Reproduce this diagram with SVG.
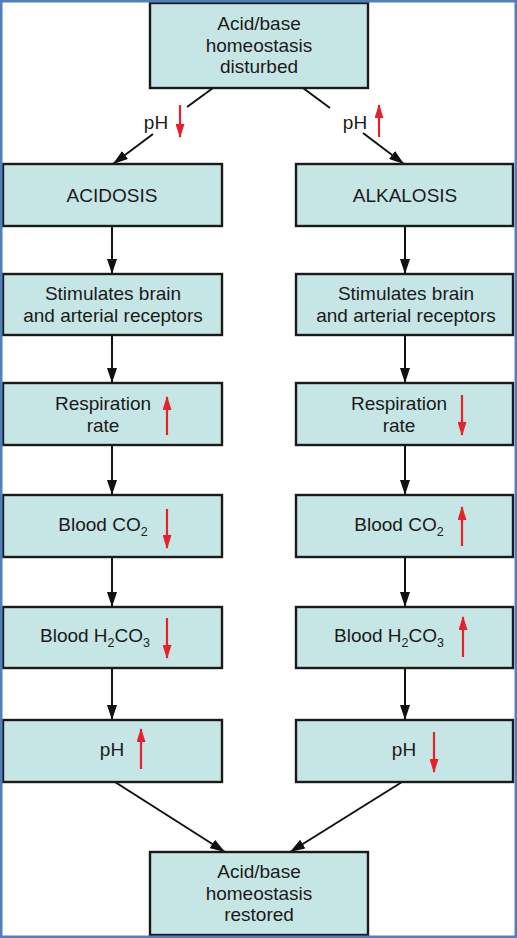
<svg xmlns="http://www.w3.org/2000/svg" width="517" height="938" viewBox="0 0 517 938">
<defs>
<style>
.box{fill:#c6e6e5;stroke:#1a1a1a;stroke-width:2.4}
.t{font-family:"Liberation Sans",Arial,Helvetica,sans-serif;font-size:19px;fill:#1a1a1a;text-anchor:middle}
.sub{font-size:12.5px}
.con{stroke:#111;stroke-width:2;fill:none}
.red{stroke:#e8202a;stroke-width:2.2;fill:none}
</style>
<marker id="bh" markerUnits="userSpaceOnUse" markerWidth="16" markerHeight="10" viewBox="0 0 16 10" refX="15" refY="5" orient="auto">
<path d="M0,0 L15,5 L0,10 Z" fill="#111"/>
</marker>
<marker id="rh" markerUnits="userSpaceOnUse" markerWidth="14" markerHeight="9" viewBox="0 0 14 9" refX="13" refY="4.5" orient="auto">
<path d="M0,0 L14,4.5 L0,9 Z" fill="#e8202a"/>
</marker>
</defs>
<rect x="0" y="0" width="517" height="938" fill="#ffffff"/>

<g id="connectors">
<line class="con" x1="213" y1="88" x2="187" y2="107"/>
<line class="con" x1="153" y1="134" x2="113" y2="164" marker-end="url(#bh)"/>
<line class="con" x1="303" y1="88" x2="330" y2="108"/>
<line class="con" x1="363" y1="133" x2="404" y2="164" marker-end="url(#bh)"/>
<line class="con" x1="112" y1="226" x2="112" y2="274" marker-end="url(#bh)"/>
<line class="con" x1="112" y1="335" x2="112" y2="383" marker-end="url(#bh)"/>
<line class="con" x1="112" y1="445" x2="112" y2="495" marker-end="url(#bh)"/>
<line class="con" x1="112" y1="557" x2="112" y2="607" marker-end="url(#bh)"/>
<line class="con" x1="112" y1="668" x2="112" y2="720" marker-end="url(#bh)"/>
<line class="con" x1="405" y1="226" x2="405" y2="274" marker-end="url(#bh)"/>
<line class="con" x1="405" y1="335" x2="405" y2="383" marker-end="url(#bh)"/>
<line class="con" x1="405" y1="445" x2="405" y2="495" marker-end="url(#bh)"/>
<line class="con" x1="405" y1="557" x2="405" y2="607" marker-end="url(#bh)"/>
<line class="con" x1="405" y1="668" x2="405" y2="720" marker-end="url(#bh)"/>
<line class="con" x1="115" y1="782" x2="225" y2="852" marker-end="url(#bh)"/>
<line class="con" x1="402" y1="782" x2="290" y2="852" marker-end="url(#bh)"/>
<text class="t" x="156" y="129">pH</text>
<text class="t" x="355" y="129">pH</text>
<line class="red" x1="180" y1="105" x2="180" y2="137" marker-end="url(#rh)"/>
<line class="red" x1="379" y1="137" x2="379" y2="105" marker-end="url(#rh)"/>
</g>

<g id="top">
<rect class="box" x="150" y="3" width="218" height="85"/>
<text class="t" x="259" y="30">Acid/base</text>
<text class="t" x="259" y="52">homeostasis</text>
<text class="t" x="259" y="73">disturbed</text>
</g>

<g id="acidosis">
<rect class="box" x="3" y="164" width="219" height="62"/>
<text class="t" x="112" y="202">ACIDOSIS</text>
</g>
<g id="alkalosis">
<rect class="box" x="296" y="164" width="217" height="62"/>
<text class="t" x="405" y="202">ALKALOSIS</text>
</g>

<g id="stim-left">
<rect class="box" x="3" y="274" width="219" height="61"/>
<text class="t" x="113" y="300">Stimulates brain</text>
<text class="t" x="113" y="322">and arterial receptors</text>
</g>
<g id="stim-right">
<rect class="box" x="296" y="274" width="217" height="61"/>
<text class="t" x="406" y="300">Stimulates brain</text>
<text class="t" x="406" y="322">and arterial receptors</text>
</g>

<g id="resp-left">
<rect class="box" x="3" y="383" width="219" height="62"/>
<text class="t" x="103" y="410">Respiration</text>
<text class="t" x="103" y="432">rate</text>
<line class="red" x1="167" y1="435" x2="167" y2="397" marker-end="url(#rh)"/>
</g>
<g id="resp-right">
<rect class="box" x="296" y="383" width="217" height="62"/>
<text class="t" x="399" y="410">Respiration</text>
<text class="t" x="399" y="432">rate</text>
<line class="red" x1="462" y1="395" x2="462" y2="435" marker-end="url(#rh)"/>
</g>

<g id="co2-left">
<rect class="box" x="3" y="495" width="219" height="62"/>
<text class="t" x="103" y="531">Blood CO<tspan class="sub" dy="5">2</tspan></text>
<line class="red" x1="167" y1="509" x2="167" y2="548" marker-end="url(#rh)"/>
</g>
<g id="co2-right">
<rect class="box" x="296" y="495" width="217" height="62"/>
<text class="t" x="399" y="531">Blood CO<tspan class="sub" dy="5">2</tspan></text>
<line class="red" x1="462" y1="546" x2="462" y2="507" marker-end="url(#rh)"/>
</g>

<g id="h2co3-left">
<rect class="box" x="3" y="607" width="219" height="61"/>
<text class="t" x="95" y="642">Blood H<tspan class="sub" dy="5">2</tspan><tspan dy="-5">CO</tspan><tspan class="sub" dy="5">3</tspan></text>
<line class="red" x1="167" y1="618" x2="167" y2="658" marker-end="url(#rh)"/>
</g>
<g id="h2co3-right">
<rect class="box" x="296" y="607" width="217" height="61"/>
<text class="t" x="389" y="642">Blood H<tspan class="sub" dy="5">2</tspan><tspan dy="-5">CO</tspan><tspan class="sub" dy="5">3</tspan></text>
<line class="red" x1="463" y1="657" x2="463" y2="617" marker-end="url(#rh)"/>
</g>

<g id="ph-left">
<rect class="box" x="3" y="720" width="219" height="62"/>
<text class="t" x="112" y="756">pH</text>
<line class="red" x1="141" y1="769" x2="141" y2="729" marker-end="url(#rh)"/>
</g>
<g id="ph-right">
<rect class="box" x="296" y="720" width="217" height="62"/>
<text class="t" x="404" y="756">pH</text>
<line class="red" x1="434" y1="732" x2="434" y2="772" marker-end="url(#rh)"/>
</g>

<g id="bottom">
<rect class="box" x="150" y="852" width="218" height="83"/>
<text class="t" x="259" y="878">Acid/base</text>
<text class="t" x="259" y="900">homeostasis</text>
<text class="t" x="259" y="921">restored</text>
</g>

<rect x="1.25" y="1.25" width="514.5" height="935.5" fill="none" stroke="#4f7fc0" stroke-width="2.5"/>
</svg>
